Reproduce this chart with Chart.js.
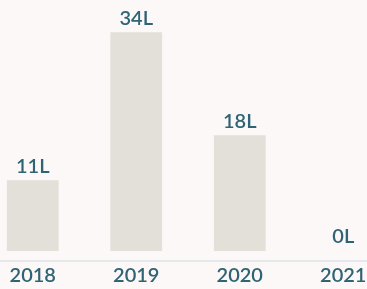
<!DOCTYPE html>
<html>
<head>
<meta charset="utf-8">
<script src="https://cdn.jsdelivr.net/npm/chart.js@4"></script>
<style>
    html, body { margin: 0; padding: 0; background: #fcf8f8; overflow: hidden; }
    #wrap { position: absolute; left: -19px; top: 0; width: 414px; height: 303px; }
</style>
</head>
<body>
<div id="wrap"><canvas id="chart"></canvas></div>
<script>
// --- Chart data ---
const years = ['2018', '2019', '2020', '2021'];
const litres = [11, 34, 18, 0];
const valueLabels = ['11L', '34L', '18L', '0L'];

const textColor = '#2e6474';
const fontFamily = 'Lato, "Open Sans", sans-serif';

// value labels above bars + faint paper line below the bars
const labelPlugin = {
    id: 'labels',
    afterDatasetsDraw(chart) {
        const ctx = chart.ctx;
        const area = chart.chartArea;
        ctx.save();
        ctx.strokeStyle = '#dfe4e7';
        ctx.lineWidth = 1.5;
        ctx.beginPath();
        ctx.moveTo(0, area.bottom + 10);
        ctx.lineTo(chart.width, area.bottom + 10);
        ctx.stroke();

        ctx.fillStyle = textColor;
        ctx.font = '600 20px ' + fontFamily;
        ctx.textAlign = 'center';
        ctx.textBaseline = 'bottom';
        chart.getDatasetMeta(0).data.forEach((bar, i) => {
            ctx.fillText(valueLabels[i], bar.x, bar.y - 4);
        });
        ctx.restore();
    }
};

new Chart(document.getElementById('chart'), {
    type: 'bar',
    data: {
        labels: years,
        datasets: [{
            data: litres,
            backgroundColor: '#e3e0da',
            borderWidth: 0,
            barPercentage: 1,
            categoryPercentage: 0.5
        }]
    },
    options: {
        responsive: true,
        maintainAspectRatio: false,
        animation: false,
        layout: { padding: { top: 0, bottom: 2, left: 0, right: 0 } },
        plugins: {
            legend: { display: false },
            tooltip: { enabled: false }
        },
        scales: {
            x: {
                grid: { display: false, drawTicks: false },
                border: { display: false },
                ticks: {
                    color: textColor,
                    padding: 13,
                    font: { family: fontFamily, size: 20, weight: '600' }
                }
            },
            y: { display: false, min: 0, max: 39 }
        }
    },
    plugins: [labelPlugin]
});
</script>
</body>
</html>
